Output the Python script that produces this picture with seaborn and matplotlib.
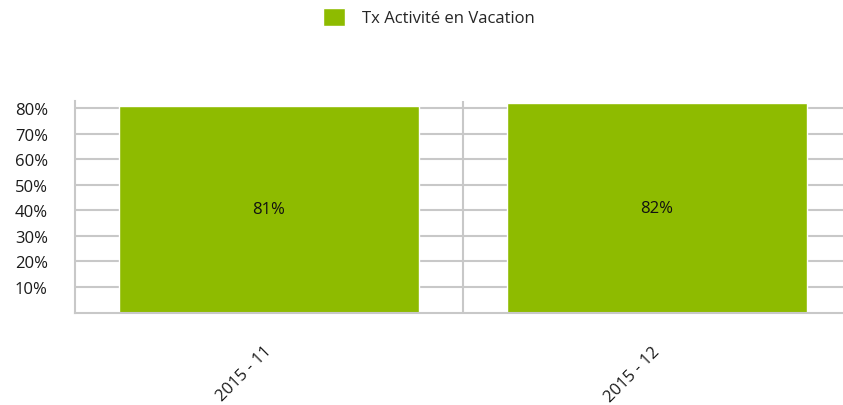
import matplotlib
matplotlib.use("Agg")
import matplotlib.pyplot as plt
import seaborn as sns
from matplotlib.ticker import PercentFormatter, FixedLocator

# data
months = ["2015 - 11", "2015 - 12"]
taux = [0.81, 0.82]
serie = "Tx Activité en Vacation"
yticks = [0.1, 0.2, 0.3, 0.4, 0.5, 0.6, 0.7, 0.8]

green = "#8EBB00"
grid_col = "#C8C8C8"

sns.set_style("white")
plt.rcParams["font.family"] = ["Open Sans", "DejaVu Sans"]

fig = plt.figure(figsize=(8.43, 4.06), dpi=100)
ax = fig.add_axes([75 / 843, 92.5 / 406, 776 / 843, 211.5 / 406])

sns.barplot(x=months, y=taux, color=green, width=0.775, ax=ax,
            label=serie, saturation=1)

ax.set_xlim(-0.5, 1.5)
ax.set_ylim(0, 0.829)
ax.set_yticks(yticks)
ax.yaxis.set_major_formatter(PercentFormatter(1.0, decimals=0))

# grid lines (horizontal + category separators)
ax.grid(axis="y", color=grid_col, linewidth=1.5)
ax.xaxis.set_minor_locator(FixedLocator([0.5]))
ax.grid(axis="x", which="minor", color=grid_col, linewidth=1.5)
ax.set_axisbelow(True)

for side in ["top", "right"]:
    ax.spines[side].set_visible(False)
for side in ["left", "bottom"]:
    ax.spines[side].set_color(grid_col)
    ax.spines[side].set_linewidth(1.5)

ax.tick_params(axis="y", length=8.6, width=1.5, color=grid_col,
               labelsize=12, pad=11, labelcolor="#1a1a1a")
ax.tick_params(axis="x", which="both", length=0, labelsize=12, pad=26,
               labelcolor="#1a1a1a")
for lbl in ax.get_xticklabels():
    lbl.set_rotation(45)
    lbl.set_ha("right")
    lbl.set_va("center")
    lbl.set_rotation_mode("anchor")

# value labels in the middle of the bars
for i, v in enumerate(taux):
    ax.text(i, v / 2, f"{v:.0%}", ha="center", va="center",
            fontsize=12, color="#111111")

ax.set_xlabel("")
ax.set_ylabel("")
if ax.get_legend() is not None:
    ax.get_legend().remove()

handles, labels = ax.get_legend_handles_labels()
fig.legend(handles, labels, loc="center", bbox_to_anchor=(429 / 843, 1 - 18 / 406),
           frameon=False, fontsize=12, handlelength=1.3, handleheight=1.3,
           handletextpad=1.0)

fig.savefig("out.png", dpi=100)
